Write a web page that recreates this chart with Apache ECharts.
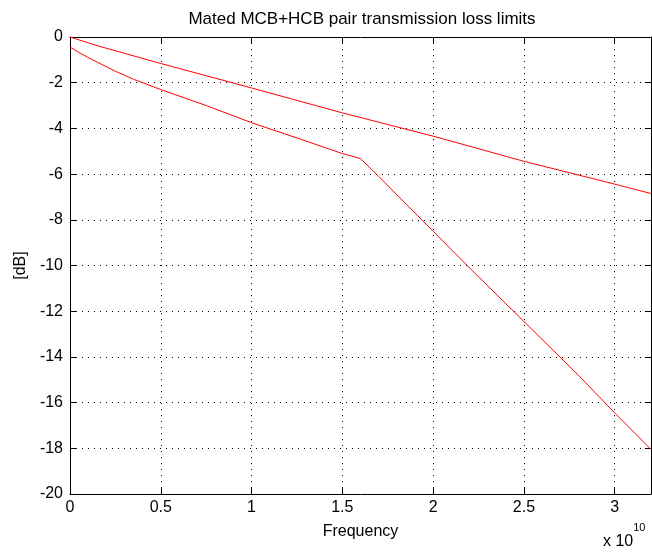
<!DOCTYPE html>
<html>
<head>
<meta charset="utf-8">
<script src="https://cdn.jsdelivr.net/npm/echarts@6/dist/echarts.min.js"></script>
<style>
  html, body { margin: 0; padding: 0; background: #fff; }
  #chart { width: 652px; height: 555px; }
</style>
</head>
<body>
<div id="chart"></div>
<script>
// Frequency samples in Hz, loss in dB
const upperFreq = [0, 0.15e10, 0.5e10, 1.0e10, 1.5e10, 2.0e10, 2.5e10, 3.0e10, 3.2e10];
const upperLoss = [0, -0.38, -1.16, -2.23, -3.32, -4.34, -5.44, -6.44, -6.85];

const lowerFreq = [0, 0.05e10, 0.1e10, 0.15e10, 0.25e10, 0.35e10, 0.5e10, 0.75e10, 1.0e10, 1.25e10, 1.5e10, 1.6e10,
                   1.7e10, 2.0e10, 2.2e10, 2.5e10, 2.8e10, 3.0e10, 3.2e10];
const lowerLoss = [-0.44, -0.68, -0.9, -1.1, -1.5, -1.85, -2.3, -3.0, -3.75, -4.42, -5.1, -5.32,
                   -6.1, -8.5, -10.1, -12.45, -14.8, -16.45, -18.05];

const xTicks = [0, 0.5, 1, 1.5, 2, 2.5, 3];          // in units of 1e10 Hz
const yTicks = [0, -2, -4, -6, -8, -10, -12, -14, -16, -18, -20];

const FONT = '"Liberation Sans", Arial, sans-serif';
const pairs = (xs, ys) => xs.map((x, i) => [x, ys[i]]);

const xMin = 0, xMax = 3.2e10, xStep = 0.5e10;
const yMin = yTicks[yTicks.length - 1], yMax = yTicks[0], yStep = 2;

const dotted = { color: '#000', width: 1, type: [1, 5] };
const frame = { show: true, onZero: false, lineStyle: { color: '#000', width: 1 } };
const inTick = { show: true, inside: true, length: 6, lineStyle: { color: '#000', width: 1 } };

const chart = echarts.init(document.getElementById('chart'), null, { renderer: 'canvas' });
chart.setOption({
  animation: false,
  backgroundColor: '#fff',
  title: {
    text: 'Mated MCB+HCB pair transmission loss limits',
    left: 357, top: 6, textAlign: 'center',
    textStyle: { fontFamily: FONT, fontSize: 17, fontWeight: 'normal', color: '#000' }
  },
  grid: { left: 70, right: 1, top: 37, bottom: 61, containLabel: false },
  xAxis: [{
    type: 'value', position: 'bottom', min: xMin, max: xMax, interval: xStep,
    axisLine: frame, axisTick: inTick,
    axisLabel: {
      show: true, margin: 6, showMaxLabel: false,
      fontFamily: FONT, fontSize: 16, color: '#000',
      formatter: v => {
        const t = Math.round(v / 1e10 * 10) / 10;
        return xTicks.includes(t) ? String(t) : '';
      }
    },
    splitLine: { show: true, lineStyle: dotted },
    name: 'Frequency', nameLocation: 'middle', nameGap: 30,
    nameTextStyle: { fontFamily: FONT, fontSize: 16, color: '#000' }
  }, {
    type: 'value', position: 'top', min: xMin, max: xMax, interval: xStep,
    axisLine: frame, axisTick: inTick, axisLabel: { show: false }, splitLine: { show: false }
  }],
  yAxis: [{
    type: 'value', position: 'left', min: yMin, max: yMax, interval: yStep,
    axisLine: frame, axisTick: inTick,
    axisLabel: { show: true, margin: 7, fontFamily: FONT, fontSize: 16, color: '#000' },
    splitLine: { show: true, lineStyle: dotted },
    name: '[dB]', nameLocation: 'middle', nameGap: 41, nameRotate: 90,
    nameTextStyle: { fontFamily: FONT, fontSize: 16, color: '#000' }
  }, {
    type: 'value', position: 'right', min: yMin, max: yMax, interval: yStep,
    axisLine: frame, axisTick: inTick, axisLabel: { show: false }, splitLine: { show: false }
  }],
  graphic: [{
    type: 'text', left: 603, top: 522,
    style: {
      text: '{b|x 10}{s|10}',
      rich: {
        b: { fontFamily: FONT, fontSize: 16, fill: '#000', verticalAlign: 'bottom', padding: [12, 0, 0, 0] },
        s: { fontFamily: FONT, fontSize: 11, fill: '#000', verticalAlign: 'top' }
      }
    }
  }],
  series: [{
    type: 'line', xAxisIndex: 0, yAxisIndex: 0,
    data: pairs(upperFreq, upperLoss),
    symbol: 'none', lineStyle: { color: '#ff0000', width: 1 }
  }, {
    type: 'line', xAxisIndex: 0, yAxisIndex: 0,
    data: pairs(lowerFreq, lowerLoss),
    symbol: 'none', lineStyle: { color: '#ff0000', width: 1 }
  }]
});
</script>
</body>
</html>
